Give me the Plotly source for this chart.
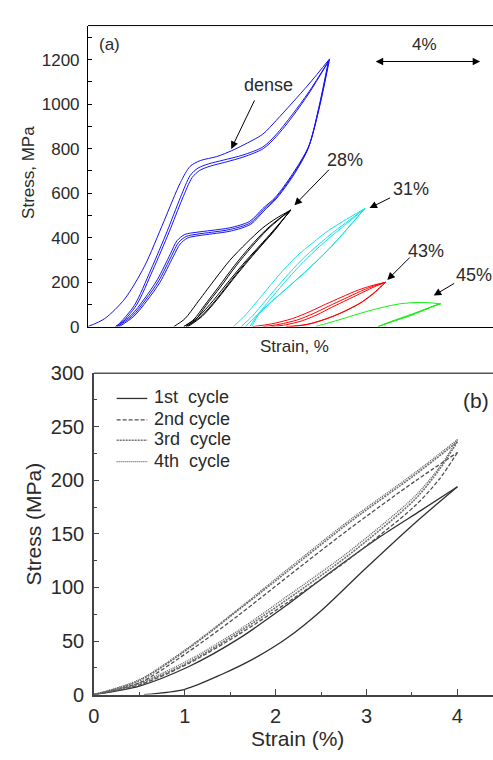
import plotly.graph_objects as go

W, H = 493, 760
FONT = "Liberation Sans, Arial, sans-serif"

# ---------------- panel (a) data: strain (%), stress (MPa) ----------------
dense_load1_e = [0, 0.64, 1.4, 2.15, 2.9, 3.53, 3.9, 4.29, 4.92, 5.48, 5.92, 6.68, 7.18, 7.8, 8.44, 9.23]
dense_load1_s = [0, 36, 124, 269, 473, 647, 720, 746, 764, 790, 815, 865, 925, 1005, 1090, 1203]
dense_unload1_e = [9.23, 8.85, 8.43, 7.81, 7.15, 6.68, 6.18, 5.42, 4.7, 4.16, 3.7, 3.4, 3.15, 2.65, 2.15, 1.65, 1.05]
dense_unload1_s = [1203, 990, 810, 685, 580, 531, 473, 444, 432, 424, 414, 386, 327, 211, 124, 51, 0]
dense_reload2_e = [1.05, 1.14, 1.77, 2.4, 3.03, 3.53, 3.91, 4.2, 4.6, 5.17, 5.92, 6.68, 7.18, 7.8, 8.44, 9.2]
dense_reload2_s = [0, 7, 95, 255, 430, 580, 680, 712, 731, 748, 771, 807, 862, 952, 1055, 1195]
dense_unload2_e = [9.2, 8.83, 8.42, 7.82, 7.17, 6.7, 6.2, 5.45, 4.73, 4.2, 3.75, 3.46, 3.2, 2.7, 2.2, 1.7, 1.12]
dense_unload2_s = [1195, 985, 805, 680, 577, 525, 466, 437, 424, 416, 405, 378, 320, 205, 120, 48, 0]
dense_reload3_e = [1.12, 1.22, 1.85, 2.47, 3.1, 3.6, 3.98, 4.27, 4.67, 5.22, 5.96, 6.7, 7.2, 7.82, 8.45, 9.18]
dense_reload3_s = [0, 8, 96, 252, 425, 573, 670, 702, 721, 738, 763, 800, 855, 945, 1050, 1190]
dense_unload3_e = [9.18, 8.81, 8.41, 7.83, 7.19, 6.72, 6.22, 5.48, 4.76, 4.24, 3.8, 3.52, 3.25, 2.75, 2.25, 1.75, 1.2]
dense_unload3_s = [1190, 980, 800, 676, 574, 520, 460, 430, 417, 409, 398, 371, 313, 199, 116, 46, 0]

p28_load1_e = [3.28, 3.7, 4.16, 4.8, 5.42, 6.05, 6.68, 7.2, 7.75]
p28_load1_s = [0, 35, 105, 205, 298, 375, 444, 487, 524]
p28_unload1_e = [7.75, 7.4, 7.06, 6.55, 6.05, 5.4, 4.79, 4.2, 3.66]
p28_unload1_s = [524, 475, 429, 362, 298, 207, 118, 42, 0]
p28_load2_e = [3.66, 4.05, 4.45, 5.0, 5.6, 6.2, 6.8, 7.3, 7.75]
p28_load2_s = [0, 33, 95, 180, 275, 360, 435, 485, 524]
p28_unload2_e = [7.75, 7.42, 7.1, 6.6, 6.1, 5.5, 4.9, 4.3, 3.75]
p28_unload2_s = [524, 477, 430, 364, 298, 212, 122, 44, 0]
p28_load3_e = [3.75, 4.12, 4.5, 5.06, 5.65, 6.25, 6.84, 7.33, 7.75]
p28_load3_s = [0, 32, 93, 178, 272, 358, 434, 485, 524]
p28_unload3_e = [7.75, 7.44, 7.13, 6.64, 6.14, 5.55, 4.95, 4.36, 3.82]
p28_unload3_s = [524, 479, 432, 366, 298, 214, 124, 46, 0]

p31_load1_e = [5.55, 6.0, 6.68, 7.3, 7.94, 8.6, 9.19, 9.9, 10.58]
p31_load1_s = [0, 50, 145, 232, 313, 378, 432, 484, 531]
p31_unload1_e = [10.58, 10.0, 9.45, 8.8, 8.19, 7.55, 6.93, 6.5, 6.18]
p31_unload1_s = [531, 452, 380, 302, 235, 168, 105, 55, 0]
p31_load2_e = [5.85, 6.3, 6.95, 7.55, 8.15, 8.78, 9.35, 9.98, 10.58]
p31_load2_s = [0, 50, 140, 222, 298, 366, 422, 478, 531]
p31_unload2_e = [10.58, 10.02, 9.5, 8.85, 8.25, 7.6, 7.0, 6.55, 6.25]
p31_unload2_s = [531, 456, 385, 306, 240, 172, 110, 58, 0]
p31_load3_e = [6.0, 6.42, 7.05, 7.65, 8.25, 8.85, 9.42, 10.02, 10.58]
p31_load3_s = [0, 47, 135, 217, 293, 360, 418, 476, 531]

p43_load1_e = [6.3, 7.0, 7.81, 8.45, 9.07, 9.7, 10.32, 10.9, 11.36]
p43_load1_s = [0, 12, 36, 66, 100, 133, 164, 186, 199]
p43_unload1_e = [11.36, 10.96, 10.4, 9.7, 9.1, 8.44, 8.0, 7.56]
p43_unload1_s = [199, 153, 105, 63, 35, 12, 4, 0]
p43_load2_e = [6.7, 7.3, 8.0, 8.6, 9.2, 9.8, 10.4, 10.95, 11.36]
p43_load2_s = [0, 10, 30, 58, 92, 125, 158, 184, 199]
p43_unload2_e = [11.36, 10.98, 10.45, 9.78, 9.18, 8.55, 8.1, 7.7]
p43_unload2_s = [199, 158, 110, 68, 38, 14, 4, 0]
p43_load3_e = [7.0, 7.55, 8.2, 8.75, 9.3, 9.9, 10.5, 11.0, 11.36]
p43_load3_s = [0, 8, 27, 53, 86, 120, 154, 182, 199]

p45_load1_e = [8.69, 9.2, 9.7, 10.3, 10.96, 11.5, 11.96, 12.5, 12.97, 13.47]
p45_load1_s = [0, 17, 34, 56, 78, 93, 103, 108, 108, 102]
p45_unload1_e = [13.47, 13.2, 12.97, 12.6, 12.2, 11.58, 11.08]
p45_unload1_s = [102, 93, 81, 63, 45, 21, 0]
p45_reload2_e = [11.08, 11.6, 12.2, 12.6, 13.0, 13.47]
p45_reload2_s = [0, 24, 49, 66, 84, 102]
p45_unload2_e = [13.47, 13.2, 12.95, 12.55, 12.15, 11.55, 11.1]
p45_unload2_s = [102, 92, 79, 61, 43, 20, 0]

# ---------------- panel (b) data: strain (%), stress (MPa) ----------------
c1_load_x = [0.55, 1.0, 1.41, 1.77, 2.13, 2.51, 2.98, 3.53, 4.0]
c1_load_y = [0, 5, 19, 34, 53, 79, 117, 160, 194]
c1_unload_x = [4.0, 3.6, 3.16, 2.6, 2.13, 1.59, 1.04, 0.5, 0]
c1_unload_y = [194, 172, 148, 114, 84, 52, 26, 8, 0]
cyc_up_x = [0, 0.5, 1.04, 1.59, 2.13, 2.8, 3.53, 4.0]
cyc_down_x = [4.0, 3.8, 3.53, 2.8, 2.13, 1.59, 1.04, 0.5, 0]
c2_up_y = [0, 11, 40, 74, 110, 154, 199, 226]
c2_down_y = [226, 201, 176, 126, 86, 56, 29, 9, 0]
c3_up_y = [0, 13, 43, 79, 115, 160, 205, 236]
c3_down_y = [236, 210, 182, 130, 89, 58, 30, 10, 0]
c4_up_y = [0, 14, 44, 80, 117, 162, 207, 238]
c4_down_y = [238, 212, 185, 133, 92, 60, 32, 11, 0]

legend_labels = ["1st\u00a0 cycle", "2nd cycle", "3rd\u00a0 cycle", "4th\u00a0 cycle"]
yticks_a = [0, 200, 400, 600, 800, 1000, 1200]
yticks_b = [0, 50, 100, 150, 200, 250, 300]
xticks_b = [0, 1, 2, 3, 4]


def px(x):
    return x / W


def py(y):
    return 1 - y / H


fig = go.Figure()


def add_a(e, s, color):
    fig.add_trace(go.Scatter(x=e, y=s, mode="lines", xaxis="x", yaxis="y",
                             line=dict(color=color, width=1, shape="spline", smoothing=0.8),
                             showlegend=False, hoverinfo="skip"))


BLUE, BLACK, CYAN, RED, GREEN = "#1414f5", "#000000", "#10e4ec", "#ff0000", "#10f010"
for e, s in [(dense_load1_e, dense_load1_s), (dense_unload1_e, dense_unload1_s),
             (dense_reload2_e, dense_reload2_s), (dense_unload2_e, dense_unload2_s),
             (dense_reload3_e, dense_reload3_s), (dense_unload3_e, dense_unload3_s)]:
    add_a(e, s, BLUE)
for e, s in [(p28_load1_e, p28_load1_s), (p28_unload1_e, p28_unload1_s),
             (p28_load2_e, p28_load2_s), (p28_unload2_e, p28_unload2_s),
             (p28_load3_e, p28_load3_s), (p28_unload3_e, p28_unload3_s)]:
    add_a(e, s, BLACK)
for e, s in [(p31_load1_e, p31_load1_s), (p31_unload1_e, p31_unload1_s),
             (p31_load2_e, p31_load2_s), (p31_unload2_e, p31_unload2_s),
             (p31_load3_e, p31_load3_s)]:
    add_a(e, s, CYAN)
for e, s in [(p43_load1_e, p43_load1_s), (p43_unload1_e, p43_unload1_s),
             (p43_load2_e, p43_load2_s), (p43_unload2_e, p43_unload2_s),
             (p43_load3_e, p43_load3_s)]:
    add_a(e, s, RED)
for e, s in [(p45_load1_e, p45_load1_s), (p45_unload1_e, p45_unload1_s),
             (p45_reload2_e, p45_reload2_s), (p45_unload2_e, p45_unload2_s)]:
    add_a(e, s, GREEN)

# panel (b)
styles_b = [dict(color="#303030", width=1.3, dash="solid"),
            dict(color="#505050", width=1.3, dash="4px,2px"),
            dict(color="#707070", width=1.6, dash="2px,1px"),
            dict(color="#606060", width=1.3, dash="1px,1px")]


def add_b(x, y, st):
    fig.add_trace(go.Scatter(x=x, y=y, mode="lines", xaxis="x2", yaxis="y2",
                             line=dict(shape="spline", smoothing=0.8, **st),
                             showlegend=False, hoverinfo="skip"))


add_b(c1_load_x, c1_load_y, styles_b[0])
add_b(c1_unload_x, c1_unload_y, styles_b[0])
for i, (up, down) in enumerate([(c2_up_y, c2_down_y), (c3_up_y, c3_down_y), (c4_up_y, c4_down_y)]):
    add_b(cyc_up_x, up, styles_b[i + 1])
    add_b(cyc_down_x, down, styles_b[i + 1])

TXT = "#2a2a2a"
ax_common = dict(showgrid=False, zeroline=False, showline=True, linecolor="black", linewidth=1)

fig.update_layout(
    width=W, height=H, margin=dict(l=0, r=0, t=0, b=0),
    paper_bgcolor="white", plot_bgcolor="white",
    font=dict(family=FONT, color=TXT),
    xaxis=dict(domain=[px(83), 1], range=[0, (W - 83) / 26.5], anchor="y",
               showticklabels=False, ticks="", **ax_common),
    yaxis=dict(domain=[py(325), py(15)], range=[0, 1200 * (325 - 15) / 275], anchor="x",
               tickvals=yticks_a, ticks="inside", ticklen=4, tickcolor="black",
               minor=dict(dtick=100, ticks="inside", ticklen=4, tickcolor="black"),
               tickfont=dict(size=17, color=TXT, family=FONT), ticklabelstandoff=4, **ax_common),
    xaxis2=dict(domain=[px(89), 1], range=[0, (W - 89) / 92], anchor="y2",
                tickvals=xticks_b, ticks="inside", ticklen=6, tickcolor="#444",
                minor=dict(dtick=0.5, ticks="inside", ticklen=3, tickcolor="#444"),
                tickfont=dict(size=20, color=TXT, family=FONT), ticklabelstandoff=3,
                showgrid=False, zeroline=False, showline=True, linecolor="#444", linewidth=1.5),
    yaxis2=dict(domain=[py(704), py(373)], range=[0, 300], anchor="x2",
                tickvals=yticks_b, ticks="inside", ticklen=5, tickcolor="#444",
                minor=dict(dtick=25, ticks="inside", ticklen=3, tickcolor="#444"),
                tickfont=dict(size=20, color=TXT, family=FONT), ticklabelstandoff=4,
                showgrid=False, zeroline=False, showline=True, linecolor="#444", linewidth=1.5),
)

shapes = [
    dict(type="line", xref="paper", yref="paper", x0=px(83), x1=1, y0=py(15), y1=py(15),
         line=dict(color="black", width=1)),
    dict(type="line", xref="paper", yref="paper", x0=px(89), x1=1, y0=py(373), y1=py(373),
         line=dict(color="#555", width=1.5)),
]
leg_rows = [399, 421, 442, 464]
for i, yy in enumerate(leg_rows):
    st = styles_b[i]
    shapes.append(dict(type="line", xref="paper", yref="paper", x0=px(112), x1=px(143),
                       y0=py(yy), y1=py(yy), line=dict(color=st["color"], width=st["width"], dash=st["dash"])))
fig.update_layout(shapes=shapes)

ann = []


def text(x, y, s, size, angle=0, anchor="center"):
    ann.append(dict(text=s, x=px(x), y=py(y), xref="paper", yref="paper", showarrow=False,
                    font=dict(size=size, color=TXT, family=FONT), textangle=angle,
                    xanchor=anchor, yanchor="middle"))


def arrow(hx, hy, tx, ty, both=False):
    d = dict(text="", x=px(hx), y=py(hy), xref="paper", yref="paper", showarrow=True,
             ax=tx - hx, ay=ty - hy, arrowhead=2, arrowsize=1.5, arrowwidth=1, arrowcolor="black")
    if both:
        d.update(arrowside="end+start", startarrowhead=2, startarrowsize=1.5)
    ann.append(d)


# panel (a) texts
text(105, 35, "(a)", 17)
text(22, 166, "Stress, MPa", 17, angle=-90)
text(292, 345, "Strain, %", 17)
text(266, 76, "dense", 18)
arrow(228, 142, 252, 92)
text(343, 153, "28%", 18)
arrow(292, 200, 328, 163)
text(410, 183, "31%", 18)
arrow(368, 203, 390, 192)
text(425, 247, "43%", 18)
arrow(386, 277, 410, 253)
text(474, 272, "45%", 18)
arrow(433, 293, 455, 280)
text(424, 35, "4%", 17)
arrow(480, 52, 374, 52, both=True)

# panel (b) texts
text(476, 401, "(b)", 21)
text(28, 528, "Stress (MPa)", 21, angle=-90)
text(295, 749, "Strain (%)", 21)
for i, yy in enumerate(leg_rows):
    text(148, yy - 1, legend_labels[i], 18, anchor="left")

fig.update_layout(annotations=ann)
fig.write_html("out.html")
